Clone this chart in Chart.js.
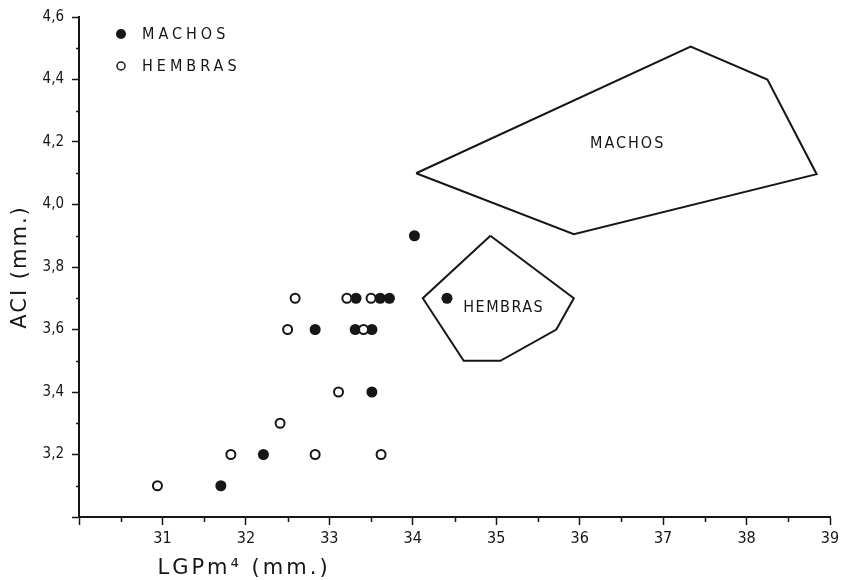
<!DOCTYPE html>
<html>
<head>
<meta charset="utf-8">
<script src="https://cdn.jsdelivr.net/npm/chart.js@4.4.0/dist/chart.umd.min.js"></script>
<style>
  html, body { margin: 0; padding: 0; background: #fff; }
</style>
</head>
<body>
<canvas id="chart" width="845" height="580"></canvas>
<script>
// Males (filled dots)
const machosX = [31.70, 32.21, 32.83, 33.32, 33.31, 33.51, 33.51, 33.61, 33.72, 34.02, 34.41];
const machosY = [3.1, 3.2, 3.6, 3.7, 3.6, 3.6, 3.4, 3.7, 3.7, 3.9, 3.7];

// Females (open dots)
const hembrasX = [30.94, 31.82, 32.41, 32.50, 32.59, 32.83, 33.11, 33.21, 33.41, 33.50, 33.62];
const hembrasY = [3.1, 3.2, 3.3, 3.6, 3.7, 3.2, 3.4, 3.7, 3.6, 3.7, 3.2];

// Range polygons
const machosAreaX = [34.04, 35.93, 38.84, 38.25, 37.33, 34.04];
const machosAreaY = [4.10, 3.905, 4.097, 4.40, 4.505, 4.10];
const hembrasAreaX = [34.93, 35.93, 35.72, 35.05, 34.61, 34.12, 34.93];
const hembrasAreaY = [3.90, 3.70, 3.60, 3.50, 3.50, 3.70, 3.90];

// Axis ranges / ticks
const xTicks = [30, 31, 32, 33, 34, 35, 36, 37, 38, 39];
const yTicks = [3.0, 3.2, 3.4, 3.6, 3.8, 4.0, 4.2, 4.4, 4.6];

const INK = '#161616';
const FONT = '"DejaVu Sans Condensed", "Liberation Sans Narrow", "DejaVu Sans", sans-serif';
const WIDE = '"DejaVu Sans", sans-serif';

function toPoints(xs, ys) {
    return xs.map((x, i) => ({ x: x, y: ys[i] }));
}

// Minor ticks, axis titles, legend and the polygon labels
const decorations = {
    id: 'decorations',
    afterDraw(chart) {
        const ctx = chart.ctx;
        const xs = chart.scales.x;
        const ys = chart.scales.y;
        const area = chart.chartArea;
        ctx.save();
        ctx.strokeStyle = INK;
        ctx.lineWidth = 1.5;

        // minor ticks on x (halves)
        for (let v = 30.5; v < 39; v += 1) {
            const px = Math.round(xs.getPixelForValue(v)) + 0.5;
            ctx.beginPath();
            ctx.moveTo(px, area.bottom);
            ctx.lineTo(px, area.bottom + 5);
            ctx.stroke();
        }
        // minor ticks on y (odd tenths)
        for (let v = 3.1; v < 4.6; v += 0.2) {
            const py = Math.round(ys.getPixelForValue(v)) + 0.5;
            ctx.beginPath();
            ctx.moveTo(area.left, py);
            ctx.lineTo(area.left - 3, py);
            ctx.stroke();
        }

        ctx.fillStyle = INK;

        // x title
        ctx.font = '21px ' + WIDE;
        ctx.letterSpacing = '3px';
        ctx.textAlign = 'left';
        ctx.textBaseline = 'alphabetic';
        ctx.fillText('LGPm\u2074 (mm.)', xs.getPixelForValue(30.94), 574);

        // y title
        ctx.save();
        ctx.translate(26, (area.top + area.bottom) / 2);
        ctx.rotate(-Math.PI / 2);
        ctx.textAlign = 'center';
        ctx.letterSpacing = '2px';
        ctx.fillText('ACI (mm.)', 0, 0);
        ctx.restore();

        // legend
        ctx.font = '16px ' + FONT;
        ctx.letterSpacing = '4px';
        ctx.textBaseline = 'middle';
        ctx.textAlign = 'left';
        ctx.beginPath();
        ctx.arc(121, 34, 5, 0, Math.PI * 2);
        ctx.fill();
        ctx.fillText('MACHOS', 142, 35);
        ctx.beginPath();
        ctx.lineWidth = 1.5;
        ctx.arc(121, 66, 4, 0, Math.PI * 2);
        ctx.stroke();
        ctx.fillText('HEMBRAS', 142, 67);

        // polygon labels
        ctx.font = '16px ' + FONT;
        ctx.letterSpacing = '2px';
        ctx.textAlign = 'center';
        ctx.fillText('MACHOS', xs.getPixelForValue(36.575), ys.getPixelForValue(4.195));
        ctx.letterSpacing = '1.5px';
        ctx.fillText('HEMBRAS', xs.getPixelForValue(35.09), ys.getPixelForValue(3.669));
        ctx.restore();
    }
};

const ctx = document.getElementById('chart').getContext('2d');
const chart = new Chart(ctx, {
    type: 'scatter',
    data: {
        datasets: [{
            label: 'Machos area',
            type: 'line',
            data: toPoints(machosAreaX, machosAreaY),
            borderColor: INK,
            borderWidth: 2,
            pointRadius: 0,
            fill: false,
            tension: 0
        }, {
            label: 'Hembras area',
            type: 'line',
            data: toPoints(hembrasAreaX, hembrasAreaY),
            borderColor: INK,
            borderWidth: 2,
            pointRadius: 0,
            fill: false,
            tension: 0
        }, {
            label: 'HEMBRAS',
            data: toPoints(hembrasX, hembrasY),
            pointRadius: 4.5,
            pointBorderWidth: 2,
            pointBackgroundColor: '#fff',
            pointBorderColor: INK
        }, {
            label: 'MACHOS',
            data: toPoints(machosX, machosY),
            pointRadius: 5.5,
            pointBorderWidth: 0,
            pointBackgroundColor: INK,
            pointBorderColor: INK
        }]
    },
    options: {
        responsive: false,
        devicePixelRatio: 1,
        animation: false,
        layout: {
            padding: { top: 15, right: 15, left: 0, bottom: 0 }
        },
        plugins: {
            legend: { display: false },
            tooltip: { enabled: false }
        },
        scales: {
            x: {
                type: 'linear',
                min: 30,
                max: 39,
                afterBuildTicks: function(scale) {
                    scale.ticks = xTicks.map(v => ({ value: v }));
                },
                afterFit: function(scale) {
                    scale.height = 63;
                },
                border: { display: true, color: INK, width: 2 },
                grid: {
                    drawOnChartArea: false,
                    drawTicks: true,
                    tickLength: 8,
                    tickColor: INK,
                    tickWidth: 1.5
                },
                ticks: {
                    color: INK,
                    padding: 4,
                    maxRotation: 0,
                    autoSkip: false,
                    font: { family: FONT, size: 16 },
                    callback: v => (v === 30 ? '' : String(v))
                }
            },
            y: {
                type: 'linear',
                min: 3.0,
                max: 4.6,
                afterBuildTicks: function(scale) {
                    scale.ticks = yTicks.map(v => ({ value: v }));
                },
                afterFit: function(scale) {
                    scale.width = 79;
                },
                border: { display: true, color: INK, width: 2 },
                grid: {
                    drawOnChartArea: false,
                    drawTicks: true,
                    tickLength: 7,
                    tickColor: INK,
                    tickWidth: 1.5
                },
                ticks: {
                    color: INK,
                    padding: 8,
                    autoSkip: false,
                    font: { family: FONT, size: 15 },
                    callback: v => (Math.abs(v - 3.0) < 1e-9 ? '' : v.toFixed(1).replace('.', ','))
                }
            }
        }
    },
    plugins: [decorations]
});
</script>
</body>
</html>
